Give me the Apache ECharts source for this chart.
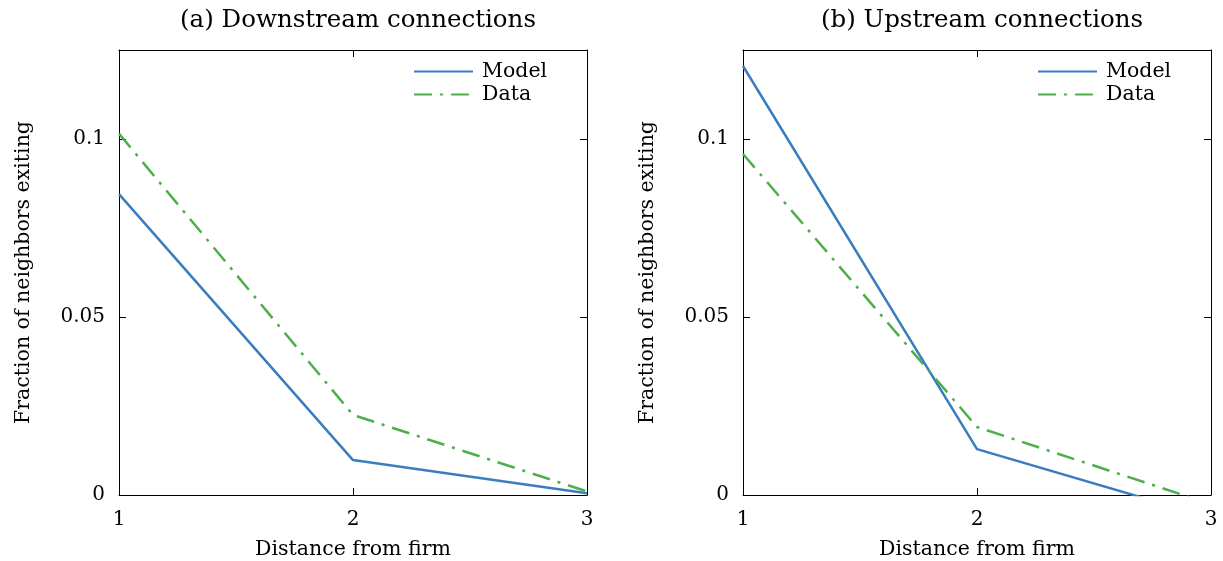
<!DOCTYPE html>
<html>
<head>
<meta charset="utf-8">
<style>
  html, body { margin: 0; padding: 0; background: #fff; }
  #chart { width: 1223px; height: 561px; }
</style>
<script src="https://cdn.jsdelivr.net/npm/echarts@6/dist/echarts.min.js"></script>
</head>
<body>
<div id="chart"></div>
<script>
const DISTANCE = [1, 2, 3];
const downModel = [0.0845, 0.0098, 0.0005];
const downData = [0.1015, 0.0225, 0.001];
const upModel = [0.1205, 0.0129, -0.0064];
const upData = [0.0958, 0.0191, -0.0026];
const PANEL_TITLES = ['(a) Downstream connections', '(b) Upstream connections'];

const FONT = 'DejaVu Serif';
const BLUE = '#3a7dbf';
const GREEN = '#4daf4a';

const chart = echarts.init(document.querySelector('#chart'));

const pairs = (ys) => DISTANCE.map((x, i) => [x, ys[i]]);

const grids = [
  { left: 119, top: 50, width: 468, height: 445 },
  { left: 743, top: 50, width: 468, height: 445 },
];

const xAxes = [];
const yAxes = [];
grids.forEach((g, i) => {
  const base = {
    gridIndex: i,
    type: 'value',
    axisLine: { show: true, onZero: false, lineStyle: { color: '#000', width: 1 } },
    axisTick: { show: true, inside: true, length: 7, lineStyle: { color: '#000' } },
    splitLine: { show: false },
  };
  xAxes.push({
    ...base, position: 'bottom', min: 1, max: 3, interval: 1,
    name: 'Distance from firm', nameLocation: 'middle', nameGap: 44,
    nameTextStyle: { fontFamily: FONT, fontSize: 20.5, color: '#000' },
    axisLabel: { fontFamily: FONT, fontSize: 20, color: '#000', margin: 15 },
  });
  xAxes.push({
    ...base, position: 'top', min: 1, max: 3, interval: 1,
    axisLabel: { show: false },
  });
  yAxes.push({
    ...base, position: 'left', min: 0, max: 0.125, interval: 0.05,
    name: 'Fraction of neighbors exiting', nameLocation: 'middle', nameGap: 85,
    nameTextStyle: { fontFamily: FONT, fontSize: 20.5, color: '#000' },
    axisLabel: { fontFamily: FONT, fontSize: 20, color: '#000', margin: 14, showMaxLabel: false },
  });
  yAxes.push({
    ...base, position: 'right', min: 0, max: 0.125, interval: 0.05,
    axisLabel: { show: false },
  });
});

const lineSeries = (name, data, panel, color, dashed) => ({
  name,
  type: 'line',
  data: pairs(data),
  xAxisIndex: panel * 2,
  yAxisIndex: panel * 2,
  symbol: 'none',
  clip: true,
  lineStyle: { color, width: 2.5, type: dashed ? [18, 8, 3, 8] : 'solid' },
  itemStyle: { color },
});

const option = {
  animation: false,
  title: PANEL_TITLES.map((t, i) => ({
    text: t,
    left: grids[i].left + grids[i].width / 2,
    top: 3,
    textAlign: 'center',
    textStyle: { fontFamily: FONT, fontSize: 24.5, fontWeight: 'normal', color: '#000' },
  })),
  legend: grids.map((g) => ({
    orient: 'vertical',
    left: g.left + 294,
    top: 61,
    padding: 0,
    itemWidth: 59,
    itemHeight: 14,
    itemGap: 2,
    itemStyle: { opacity: 0 },
    textStyle: { fontFamily: FONT, fontSize: 20.5, color: '#000', padding: [0, 0, 0, 4] },
    data: ['Model', 'Data'],
  })),
  grid: grids.map((g) => ({ ...g, show: false, containLabel: false, outerBoundsMode: 'none' })),
  xAxis: xAxes,
  yAxis: yAxes,
  series: [
    lineSeries('Model', downModel, 0, BLUE, false),
    lineSeries('Data', downData, 0, GREEN, true),
    lineSeries('Model', upModel, 1, BLUE, false),
    lineSeries('Data', upData, 1, GREEN, true),
  ],
};

chart.setOption(option);
window.addEventListener('resize', () => chart.resize());
</script>
</body>
</html>
